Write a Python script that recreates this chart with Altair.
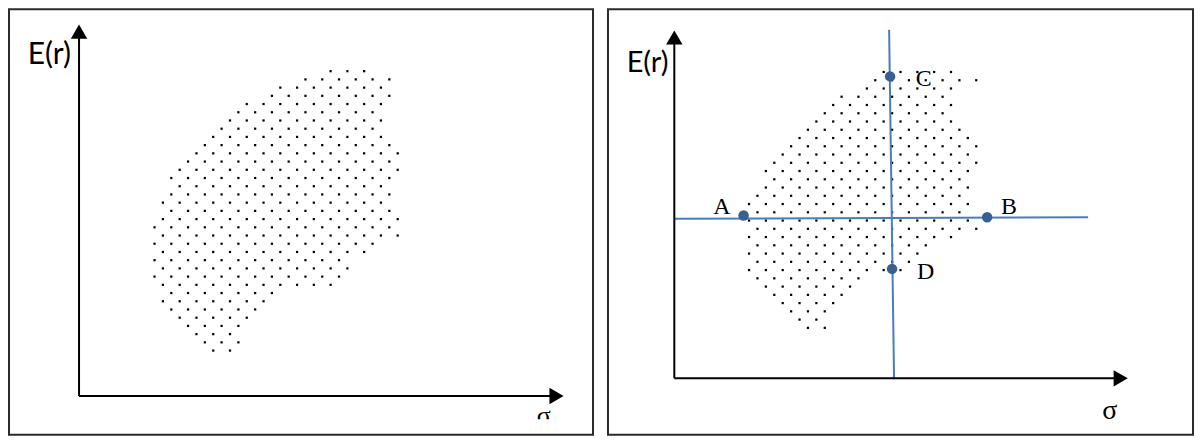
import altair as alt
import numpy as np
import pandas as pd

# ---------------- data (sigma, E(r)) in chart units ----------------
# outline of the shaded feasible set, left panel
left_outline = [
    (4.553, 6.687), (5.163, 6.839), (5.874, 6.870), (6.484, 6.789), (6.585, 6.524),
    (6.341, 6.159), (6.179, 5.955), (6.341, 5.549), (6.606, 5.102), (6.606, 4.736),
    (6.341, 4.085), (6.646, 3.720), (6.667, 3.313), (6.098, 3.171), (5.732, 2.906),
    (5.406, 2.541), (5.224, 2.276), (4.248, 2.195), (4.045, 2.093), (3.841, 1.951),
    (3.638, 1.789), (3.455, 1.585), (3.293, 1.382), (3.333, 1.118), (3.171, 0.854),
    (2.724, 0.854), (2.520, 1.077), (2.276, 1.280), (2.053, 1.484), (1.870, 1.687),
    (1.707, 1.951), (1.545, 2.256), (1.443, 2.663), (1.443, 3.272), (1.524, 3.638),
    (1.646, 3.984), (1.768, 4.289), (1.911, 4.654), (2.215, 4.939), (2.419, 5.142),
    (2.663, 5.386), (2.967, 5.691), (3.252, 5.996), (3.638, 6.301), (4.085, 6.524),
]
# outline of the shaded feasible set, right panel
right_outline = [
    (4.651, 6.943), (6.179, 6.965), (6.834, 6.747), (6.397, 6.572), (6.179, 6.310),
    (6.397, 6.135), (6.179, 5.917), (6.397, 5.742), (6.572, 5.480), (6.769, 5.218),
    (6.769, 4.825), (6.550, 4.432), (6.528, 3.690), (6.769, 3.472), (6.725, 3.297),
    (6.223, 3.166), (5.677, 2.991), (5.459, 2.817), (5.240, 2.642), (5.131, 2.424),
    (4.214, 2.271), (3.952, 2.074), (3.777, 1.900), (3.559, 1.725), (3.384, 1.528),
    (3.384, 1.288), (3.384, 1.092), (2.860, 1.026), (2.686, 1.288), (2.511, 1.463),
    (2.314, 1.659), (2.096, 1.856), (1.921, 2.074), (1.747, 2.293), (1.572, 2.533),
    (1.572, 3.952), (1.725, 4.236), (1.900, 4.563), (2.096, 4.825), (2.293, 5.044),
    (2.489, 5.240), (2.686, 5.437), (2.904, 5.655), (3.100, 5.852), (3.297, 6.048),
    (3.625, 6.332), (3.952, 6.572), (4.323, 6.790),
]
# dotted fill texture (a reference dot and the dot pitch: along a row, between rows)
left_dot_origin = (2.419, 5.102)
left_dot_pitch = (0.3455, 0.1728)
right_dot_origin = (3.690, 6.332)
right_dot_pitch = (0.3712, 0.1856)

# axis arrow-head centres (sigma axis end, E(r) axis end)
left_axis_tip = (9.837, 7.663)
right_axis_tip = (9.847, 7.664)

# right panel: portfolios A-D
pt_labels = ["A", "B", "C", "D"]
pt_sigma = [1.528, 6.900, 4.760, 4.803]
pt_er = [3.662, 3.624, 6.790, 2.461]
lbl_sigma = [1.048, 7.380, 5.502, 5.546]
lbl_er = [3.843, 3.843, 6.725, 2.380]

# right panel: blue guide lines (start, end)
hline_sigma = [0.0, 9.127]
hline_er = [3.587, 3.624]
vline_sigma = [4.738, 4.847]
vline_er = [7.838, -0.022]

# axis titles (centre positions)
left_er_title = (-0.61, 7.17)
left_sigma_title = (9.573, -0.43)
left_sigma_mask = ([9.2, 10.0], [-0.488, -0.772])
right_er_title = (-0.59, 7.096)
right_sigma_title = (9.607, -0.731)

# visible extent of each framed panel
left_x_domain = [-1.443, 10.589]
left_y_domain = [-0.813, 8.130]
right_x_domain = [-1.463, 11.441]
right_y_domain = [-1.266, 8.297]


# ---------------- helpers ----------------
def inside(px, py, poly):
    xs = np.array([p[0] for p in poly])
    ys = np.array([p[1] for p in poly])
    n = len(poly)
    res = np.zeros(px.shape, dtype=bool)
    j = n - 1
    for i in range(n):
        cond = ((ys[i] > py) != (ys[j] > py)) & (
            px < (xs[j] - xs[i]) * (py - ys[i]) / (ys[j] - ys[i] + 1e-12) + xs[i]
        )
        res ^= cond
        j = i
    return res


def texture(poly, origin, pitch):
    xs = [p[0] for p in poly]
    ys = [p[1] for p in poly]
    ox, oy = origin
    dx, dr = pitch
    kmin = int(np.floor((oy - max(ys)) / dr)) - 1
    kmax = int(np.ceil((oy - min(ys)) / dr)) + 1
    imin = int(np.floor((min(xs) - ox) / dx)) - 2
    imax = int(np.ceil((max(xs) - ox) / dx)) + 2
    px, py = [], []
    for k in range(kmin, kmax + 1):
        off = (k % 2) * dx / 2
        for i in range(imin, imax + 1):
            px.append(ox + off + i * dx)
            py.append(oy - k * dr)
    px = np.array(px)
    py = np.array(py)
    m = inside(px, py, poly)
    return pd.DataFrame({"s": px[m], "e": py[m]})


def panel(outline, origin, pitch, xdom, ydom, tip, er_title, sig_title,
          er_size, sig_size, width, height, extra=None, mask=None):
    xs = alt.Scale(domain=xdom, nice=False, zero=False)
    ys = alt.Scale(domain=ydom, nice=False, zero=False)

    def X(f):
        return alt.X(f, type="quantitative", scale=xs, axis=None)

    def Y(f):
        return alt.Y(f, type="quantitative", scale=ys, axis=None)

    dots = alt.Chart(texture(outline, origin, pitch)).mark_square(
        size=5, color="#000000", opacity=1
    ).encode(x=X("s"), y=Y("e"))

    axes_df = pd.DataFrame({
        "s": [0.0, 0.0], "e": [0.0, 0.0],
        "s2": [tip[0], 0.0], "e2": [0.0, tip[1]],
    })
    axes = alt.Chart(axes_df).mark_rule(color="black", strokeWidth=2).encode(
        x=X("s"), y=Y("e"), x2="s2", y2="e2"
    )
    heads_df = pd.DataFrame({
        "s": [tip[0], 0.0], "e": [0.0, tip[1]],
        "shape": ["triangle-right", "triangle-up"],
    })
    heads = alt.Chart(heads_df).mark_point(
        filled=True, size=270, color="black", opacity=1, strokeWidth=0
    ).encode(x=X("s"), y=Y("e"), shape=alt.Shape("shape:N", scale=None))

    er_df = pd.DataFrame({"s": [er_title[0]], "e": [er_title[1]], "t": ["E(r)"]})
    er_txt = alt.Chart(er_df).mark_text(
        font="Lato", fontSize=er_size, color="black", align="center", baseline="middle"
    ).encode(x=X("s"), y=Y("e"), text="t:N")
    sg_df = pd.DataFrame({"s": [sig_title[0]], "e": [sig_title[1]], "t": ["σ"]})
    sg_txt = alt.Chart(sg_df).mark_text(
        font="Liberation Serif", fontSize=sig_size, color="black",
        align="center", baseline="middle"
    ).encode(x=X("s"), y=Y("e"), text="t:N")

    layers = [dots]
    if extra is not None:
        layers += extra(X, Y)
    layers += [axes, heads, er_txt, sg_txt]
    if mask is not None:
        mdf = pd.DataFrame({"s": [mask[0][0]], "s2": [mask[0][1]],
                            "e": [mask[1][0]], "e2": [mask[1][1]]})
        layers.append(
            alt.Chart(mdf).mark_rect(color="white").encode(
                x=X("s"), x2="s2", y=Y("e"), y2="e2")
        )
    return alt.layer(*layers).properties(width=width, height=height)


def right_extras(X, Y):
    lines_df = pd.DataFrame({
        "s": [hline_sigma[0], vline_sigma[0]], "e": [hline_er[0], vline_er[0]],
        "s2": [hline_sigma[1], vline_sigma[1]], "e2": [hline_er[1], vline_er[1]],
    })
    lines = alt.Chart(lines_df).mark_rule(color="#4a7ebb", strokeWidth=2).encode(
        x=X("s"), y=Y("e"), x2="s2", y2="e2"
    )
    pts_df = pd.DataFrame({"s": pt_sigma, "e": pt_er, "n": pt_labels})
    pts = alt.Chart(pts_df).mark_circle(size=110, color="#3a5f91", opacity=1).encode(
        x=X("s"), y=Y("e")
    )
    lbl_df = pd.DataFrame({"s": lbl_sigma, "e": lbl_er, "n": pt_labels})
    lbls = alt.Chart(lbl_df).mark_text(
        font="Liberation Serif", fontSize=24, color="black",
        align="center", baseline="middle"
    ).encode(x=X("s"), y=Y("e"), text="n:N")
    return [lines, pts, lbls]


left = panel(left_outline, left_dot_origin, left_dot_pitch, left_x_domain,
             left_y_domain, left_axis_tip, left_er_title, left_sigma_title,
             30, 26, 585, 426, mask=left_sigma_mask)
right = panel(right_outline, right_dot_origin, right_dot_pitch, right_x_domain,
              right_y_domain, right_axis_tip, right_er_title, right_sigma_title,
              29, 28, 586, 426, extra=right_extras)

chart = alt.hconcat(left, right, spacing=13).resolve_scale(
    x="independent", y="independent"
).properties(padding=0, background="white").configure_view(
    stroke="#2b2b2b", strokeWidth=2
)

chart.save("out.html", embed_options={"renderer": "svg", "actions": False})
